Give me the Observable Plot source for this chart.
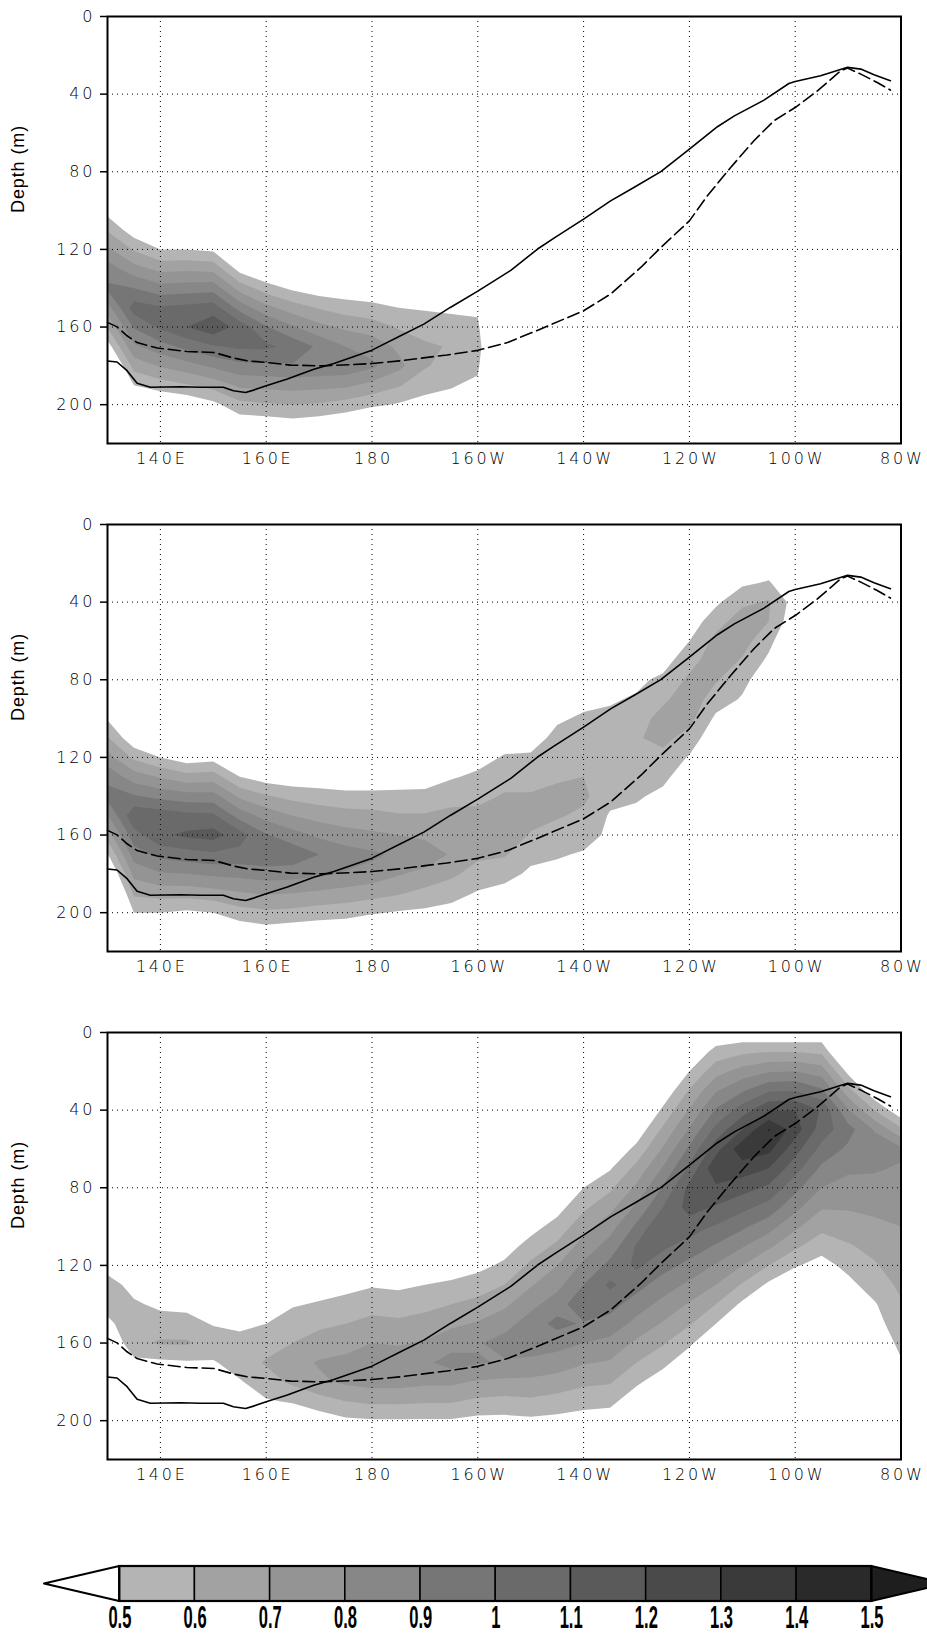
<!DOCTYPE html>
<html><head><meta charset="utf-8">
<script src="https://cdn.jsdelivr.net/npm/d3@7"></script>
<script src="https://cdn.jsdelivr.net/npm/@observablehq/plot@0.6"></script>
<style>
html,body{margin:0;padding:0;background:#fff;overflow:hidden;}
#chart{width:927px;}
#chart svg{display:block;}
</style></head><body><div id="chart"></div>
<script>
// ---- axes / ticks ----
const xDomain = [130, 280];
const yDomain = [0, 220];
const lonTicks = [140, 160, 180, 200, 220, 240, 260, 280];
const lonTickLabels = ["140E", "160E", "180", "160W", "140W", "120W", "100W", "80W"];
const lonGridLines = [140, 160, 180, 200, 220, 240, 260];
const depthTicks = [0, 40, 80, 120, 160, 200];
const depthGridLines = [40, 80, 120, 160, 200];

// ---- colour levels ----
const levels = [0.5, 0.6, 0.7, 0.8, 0.9, 1.0, 1.1, 1.2, 1.3, 1.4, 1.5];
const cbLabels = ["0.5", "0.6", "0.7", "0.8", "0.9", "1", "1.1", "1.2", "1.3", "1.4", "1.5"];
const grays = ["#ffffff", "#b4b4b4", "#a2a2a2", "#949494", "#878787", "#767676", "#6a6a6a", "#5a5a5a", "#4a4a4a", "#3a3a3a", "#2a2a2a", "#1e1e1e"];

// ---- sample grid (lon in degrees east, depth in m) ----
const gridLon = [130,135,140,145,150,155,160,165,170,175,180,185,190,195,200,205,210,215,220,225,230,235,240,245,250,255,260,265,270,275,280];
const gridDepth = [0,10,20,30,40,50,60,70,80,90,100,110,120,130,140,150,160,170,180,190,200,210,220];

// ---- thermocline lines ----
const solidLon = [130,131.8,133.7,135.6,138.1,143.8,147.6,151.9,153.8,156.1,157.6,160,164,169,172.8,180,185.4,189.8,194.8,200,206.3,211.3,214.4,220,225.1,229.5,234.6,240,245.3,248.5,254.1,258.8,260,264.8,269.9,272.4,274.9,278];
const solidDepth = [177.5,178,182.5,189,191,190.8,191,191,192.8,193.7,192.5,190.3,186.8,181.7,178.8,171.9,164.5,158.5,149.9,141.5,130.7,119.8,114.2,104.4,95,88.1,79.9,68.3,56.8,51.2,43.1,34.5,33.5,30.5,26.2,27.1,30,33.1];
const dashLon = [130,131.8,133.7,135.6,139.4,145,150.1,153.9,156.4,160.2,164.6,170.3,175.9,180,185.4,191.7,194.2,200,205.6,211.9,220,225.1,230.8,234.6,240,243.4,247.8,252.2,256,260,264.2,268.6,269.9,272.4,275.5,278];
const dashDepth = [157.6,159.9,164.5,168,170.8,172.6,173.1,176,177.4,178.3,179.6,180,179.4,178.8,177.4,175.2,174.4,172,168,161,151.6,143,129.3,119,105.3,92.4,77.8,64,53.7,46.9,38.3,28,26.6,29.7,34,37.9];

// ---- field values: one column per longitude (gridLon), top to bottom (gridDepth) ----
const Z = [0,0,0,0,0,0,0,0,0,0,0,0,0,0,0,0,0,0,0,0,0,0,0];
const panel1 = [
  [0,0,0,0,0,0,0,0,.2,.33,.46,.59,.72,.85,.92,.76,.61,.45,.3,.14,0,0,0],
  [0,0,0,0,0,0,0,0,0,.13,.29,.44,.59,.74,.9,1.05,.91,.78,.64,.5,.36,.23,.09],
  [0,0,0,0,0,0,0,0,0,0,.16,.33,.5,.67,.84,1.01,1.02,.86,.71,.55,.39,.23,.07],
  [0,0,0,0,0,0,0,0,0,0,.15,.32,.5,.68,.85,1.03,1.1,.93,.76,.59,.41,.24,.07],
  [0,0,0,0,0,0,0,0,0,0,.1,.29,.48,.67,.86,1.05,1.17,.99,.82,.64,.47,.29,.12],
  [0,0,0,0,0,0,0,0,0,0,0,.06,.26,.46,.66,.86,1.06,1.02,.87,.72,.57,.43,.28],
  [0,0,0,0,0,0,0,0,0,0,0,.02,.2,.38,.55,.73,.91,1.02,.88,.73,.59,.44,.3],
  [0,0,0,0,0,0,0,0,0,0,0,0,.16,.32,.48,.65,.81,.97,.89,.74,.6,.46,.31],
  [0,0,0,0,0,0,0,0,0,0,0,.01,.15,.3,.44,.59,.73,.88,.88,.73,.59,.44,.3],
  [0,0,0,0,0,0,0,0,0,0,0,.05,.18,.3,.43,.55,.68,.8,.87,.72,.56,.41,.25],
  [0,0,0,0,0,0,0,0,0,0,0,.08,.2,.31,.42,.53,.65,.76,.82,.67,.52,.36,.21],
  [0,0,0,0,0,0,0,0,0,0,0,.14,.23,.32,.41,.5,.59,.68,.73,.61,.49,.37,.25],
  [0,0,0,0,0,0,0,0,0,0,0,.23,.29,.36,.42,.49,.55,.62,.61,.54,.46,.39,.31],
  [0,0,0,0,0,0,0,0,0,0,0,.27,.33,.38,.43,.48,.54,.59,.56,.51,.45,.4,.35],
  [0,0,0,0,0,0,0,0,0,0,0,.26,.31,.37,.42,.47,.53,.58,.53,.47,.42,.37,.31],
  Z, Z, Z, Z, Z, Z, Z, Z, Z, Z, Z, Z, Z, Z, Z, Z
];
const panel2 = [
  [0,0,0,0,0,0,0,.11,.23,.36,.49,.61,.74,.87,.94,.79,.65,.49,.35,.21,.06,0,0],
  [0,0,0,0,0,0,0,0,0,.09,.25,.42,.58,.75,.91,1.08,.96,.85,.73,.62,.5,.38,.27],
  [0,0,0,0,0,0,0,0,0,0,.13,.31,.5,.69,.87,1.06,1.08,.93,.79,.64,.5,.36,.21],
  [0,0,0,0,0,0,0,0,0,0,.05,.24,.44,.64,.84,1.03,1.12,.96,.8,.64,.48,.33,.17],
  [0,0,0,0,0,0,0,0,0,0,.09,.28,.46,.65,.84,1.02,1.14,.98,.82,.66,.5,.34,.18],
  [0,0,0,0,0,0,0,0,0,0,0,.14,.32,.5,.68,.86,1.04,.97,.83,.69,.56,.42,.28],
  [0,0,0,0,0,0,0,0,0,0,0,.15,.3,.45,.61,.76,.91,.98,.85,.71,.58,.45,.31],
  [0,0,0,0,0,0,0,0,0,0,.03,.16,.3,.43,.57,.7,.84,.97,.84,.7,.57,.43,.3],
  [0,0,0,0,0,0,0,0,0,0,.08,.2,.31,.43,.55,.66,.78,.9,.82,.68,.55,.42,.29],
  [0,0,0,0,0,0,0,0,0,.01,.11,.22,.32,.43,.53,.64,.74,.85,.79,.66,.54,.41,.28],
  [0,0,0,0,0,0,0,0,0,.04,.14,.24,.34,.43,.53,.63,.72,.82,.76,.64,.51,.39,.26],
  [0,0,0,0,0,0,0,0,.01,.1,.18,.27,.35,.44,.53,.61,.7,.78,.71,.61,.49,.39,.29],
  [0,0,0,0,0,0,0,0,.07,.15,.22,.3,.38,.45,.53,.61,.68,.76,.67,.57,.48,.39,.3],
  [0,0,0,0,0,0,0,.07,.14,.21,.28,.35,.42,.49,.56,.63,.7,.69,.62,.54,.46,.39,.31],
  [0,0,0,0,.03,.08,.14,.19,.24,.3,.35,.41,.46,.52,.57,.63,.68,.62,.56,.49,.44,.38,.32],
  [0,0,0,.03,.08,.14,.19,.24,.3,.35,.4,.45,.51,.56,.61,.66,.68,.61,.54,.46,.39,.32,.25],
  [0,.03,.07,.12,.16,.2,.25,.29,.33,.38,.42,.47,.51,.56,.61,.64,.59,.53,.48,.43,.37,.32,.26],
  [.17,.2,.23,.27,.3,.33,.36,.39,.42,.46,.49,.52,.56,.59,.62,.61,.56,.51,.47,.42,.38,.33,.28],
  [.23,.26,.29,.31,.34,.37,.4,.43,.45,.48,.51,.54,.57,.6,.62,.58,.54,.49,.46,.41,.37,.33,.29],
  [.29,.31,.33,.36,.38,.4,.43,.45,.47,.49,.52,.55,.58,.56,.53,.49,.48,.45,.43,.4,.38,.35,.33],
  [.22,.25,.29,.32,.35,.38,.41,.45,.48,.51,.55,.59,.57,.53,.51,.48,.46,.43,.41,.38,.35,.33,.3],
  [.14,.19,.23,.28,.33,.37,.42,.46,.52,.58,.64,.63,.57,.52,.48,.44,.4,.36,.32,.28,.24,.2,.16],
  [.2,.24,.29,.34,.39,.44,.5,.56,.62,.66,.63,.56,.49,.45,.4,.35,.3,.25,.2,.15,.1,.05,0],
  [.27,.32,.37,.42,.48,.56,.63,.66,.61,.55,.48,.42,.36,.3,.24,.19,.13,.07,.01,0,0,0,0],
  [.26,.33,.4,.48,.58,.65,.64,.59,.53,.49,.45,.41,.37,.32,.28,.24,.2,.15,.11,.07,.03,0,0],
  [.3,.37,.43,.51,.61,.6,.53,.48,.43,.38,.33,.28,.23,.18,.13,.08,.03,0,0,0,0,0,0],
  [.25,.3,.35,.4,.45,.42,.38,.34,.3,.26,.22,.18,.14,.1,.06,.02,0,0,0,0,0,0,0],
  Z, Z, Z, Z
];
const panel3 = [
  [0,0,0,0,0,0,0,0,.03,.13,.23,.33,.44,.56,.55,.47,.38,.28,.18,.08,0,0,0],
  [0,0,0,0,0,0,0,0,.02,.1,.18,.25,.35,.45,.52,.58,.58,.47,.37,.28,.19,.1,.01],
  [0,0,0,0,0,0,0,0,0,.04,.12,.21,.29,.38,.47,.56,.61,.48,.36,.24,.12,0,0],
  [0,0,0,0,0,0,0,0,0,.03,.11,.2,.29,.37,.46,.55,.61,.49,.37,.25,.13,.01,0],
  [0,0,0,0,0,0,0,0,0,.06,.13,.2,.28,.35,.42,.49,.57,.49,.4,.3,.2,.1,0],
  [0,0,0,0,.01,.05,.1,.14,.18,.23,.27,.31,.35,.4,.44,.48,.53,.55,.49,.44,.39,.34,.29],
  [0,0,0,0,0,0,.01,.06,.12,.17,.23,.28,.34,.39,.45,.5,.56,.61,.56,.49,.41,.34,.26],
  [0,0,0,0,0,0,.04,.09,.15,.21,.26,.32,.38,.43,.49,.55,.6,.66,.62,.51,.41,.3,.19],
  [0,0,0,0,0,0,0,.06,.12,.19,.25,.32,.38,.45,.51,.58,.64,.71,.68,.56,.44,.32,.2],
  [0,0,0,0,0,0,.01,.07,.14,.2,.27,.34,.4,.47,.53,.6,.66,.73,.72,.6,.48,.35,.23],
  [0,0,0,0,0,0,0,.07,.14,.21,.28,.35,.42,.49,.56,.63,.7,.77,.74,.62,.49,.38,.26],
  [0,0,0,0,0,0,0,.05,.12,.19,.26,.34,.41,.48,.55,.62,.69,.76,.74,.62,.49,.38,.26],
  [0,0,0,0,0,0,.01,.08,.15,.22,.29,.36,.43,.5,.57,.64,.71,.78,.72,.61,.49,.39,.28],
  [0,0,0,0,0,0,0,.03,.11,.19,.27,.35,.44,.52,.6,.68,.76,.84,.72,.61,.49,.37,.25],
  [0,0,0,0,0,0,0,.07,.15,.23,.31,.39,.47,.55,.63,.71,.79,.81,.69,.58,.47,.35,.24],
  [0,0,0,0,0,0,.05,.13,.21,.29,.37,.45,.52,.6,.68,.76,.84,.79,.68,.57,.47,.36,.26],
  [0,0,0,0,0,.08,.15,.23,.31,.39,.46,.54,.62,.69,.77,.85,.87,.77,.68,.58,.48,.38,.29],
  [0,0,0,0,.07,.15,.23,.31,.38,.46,.54,.62,.7,.77,.85,.93,.84,.75,.66,.56,.47,.38,.29],
  [0,0,.02,.1,.18,.26,.34,.42,.5,.58,.66,.74,.82,.9,.98,.89,.8,.71,.62,.54,.45,.36,.27],
  [0,0,.05,.14,.23,.32,.4,.49,.58,.67,.76,.84,.93,1.02,.94,.86,.77,.69,.61,.53,.44,.36,.28],
  [0,.05,.14,.24,.34,.43,.53,.63,.72,.82,.92,1.01,1.02,.94,.85,.77,.68,.6,.52,.43,.35,.27,.18],
  [.13,.23,.33,.42,.52,.62,.71,.81,.91,1,1.1,1.02,.94,.85,.77,.69,.61,.53,.44,.36,.28,.2,.11],
  [.29,.4,.5,.61,.71,.81,.92,1.02,1.13,1.14,1.05,.96,.87,.78,.69,.61,.52,.43,.34,.25,.16,.08,0],
  [.41,.54,.66,.79,.91,1.03,1.16,1.28,1.18,1.09,.99,.89,.79,.7,.6,.5,.4,.31,.21,.11,.01,0,0],
  [.42,.58,.74,.89,1.05,1.2,1.37,1.25,1.14,1.03,.92,.81,.7,.59,.48,.37,.26,.15,.04,0,0,0,0],
  [.4,.6,.79,.99,1.19,1.41,1.33,1.2,1.08,.96,.84,.72,.6,.48,.36,.23,.11,0,0,0,0,0,0],
  [.4,.6,.8,1,1.2,1.25,1.14,1.04,.93,.83,.72,.62,.51,.41,.3,.2,.09,0,0,0,0,0,0],
  [.42,.58,.75,.92,1.09,1.05,.97,.88,.8,.71,.63,.54,.46,.37,.29,.2,.12,.03,0,0,0,0,0],
  [.12,.29,.47,.64,.81,.94,.88,.82,.76,.71,.65,.59,.53,.47,.41,.35,.3,.24,.18,.12,.06,0,0],
  [0,.03,.22,.41,.6,.79,.86,.81,.77,.72,.68,.63,.59,.55,.49,.46,.41,.37,.32,.28,.23,.19,.14],
  [0,0,.02,.22,.42,.62,.82,.79,.76,.73,.7,.68,.65,.62,.59,.56,.53,.49,.47,.44,.41,.38,.36]
];

// ---- build ----
const W = 927;
const colorScale = {type: "threshold", domain: levels, range: grays};
const dLon = gridLon[1] - gridLon[0];
const dDep = gridDepth[1] - gridDepth[0];
const LS = 2.8; // tick label letter spacing

function flatGrid(cols) {
  const w = cols.length, h = cols[0].length, out = new Array(w * h);
  for (let j = 0; j < h; j++) for (let i = 0; i < w; i++) out[j * w + i] = cols[i][j];
  return out;
}

function panel(cols) {
  const values = flatGrid(cols);
  const svg = Plot.plot({
    width: W, height: 508,
    marginTop: 16, marginBottom: 65, marginLeft: 107, marginRight: 26.5,
    style: {fontFamily: "'DejaVu Sans', sans-serif", fontSize: "16px", fontWeight: 200, letterSpacing: LS + "px", background: "white", color: "black"},
    x: {domain: xDomain},
    y: {domain: yDomain, reverse: true},
    color: colorScale,
    marks: [
      Plot.contour(values, {
        width: gridLon.length, height: gridDepth.length,
        x1: gridLon[0] - dLon / 2, x2: gridLon[gridLon.length - 1] + dLon / 2,
        y1: gridDepth[0] - dDep / 2, y2: gridDepth[gridDepth.length - 1] + dDep / 2,
        fill: Plot.identity, thresholds: levels, stroke: "none", clip: true
      }),
      Plot.gridX(lonGridLines, {stroke: "black", strokeOpacity: 1, strokeWidth: 1, strokeDasharray: "1,4"}),
      Plot.gridY(depthGridLines, {stroke: "black", strokeOpacity: 1, strokeWidth: 1, strokeDasharray: "1,4"}),
      Plot.line(solidLon, {x: solidLon, y: solidDepth, stroke: "black", strokeWidth: 1.6}),
      Plot.line(dashLon, {x: dashLon, y: dashDepth, stroke: "black", strokeWidth: 1.6, strokeDasharray: "12,5"}),
      Plot.frame({stroke: "black", strokeWidth: 2}),
      Plot.axisY(depthTicks, {tickSize: 7, tickPadding: 8 - LS, label: null, stroke: "black", strokeWidth: 1.5}),
      Plot.axisX(lonTicks, {tickSize: 0, tickPadding: 9, dx: LS / 2, label: null, tickFormat: d => lonTickLabels[lonTicks.indexOf(d)]}),
      Plot.text(["Depth (m)"], {frameAnchor: "left", dx: -89, dy: -17, rotate: -90, fontSize: 18, fontWeight: 400, fontFamily: "'Liberation Sans', Arial, sans-serif"})
    ]
  });
  d3.select(svg).selectAll("text").filter(function () { return this.textContent === "Depth (m)"; })
    .style("letter-spacing", "0.9px");
  return svg;
}

const root = document.getElementById("chart");
[panel1, panel2, panel3].forEach(p => root.appendChild(panel(p)));

// ---- colour bar ----
const step = levels[1] - levels[0];
const lo = levels[0] - step, hi = levels[levels.length - 1] + step;
const bins = levels.slice(0, -1).map((v, i) => ({lo: v, hi: levels[i + 1]}));
const cb = Plot.plot({
  width: W, height: 113, margin: 0,
  style: {background: "white", overflow: "hidden"},
  x: {domain: [lo, hi], range: [44, 946.5]},
  y: {domain: [0, 1], range: [42, 77]},
  color: colorScale,
  marks: [
    Plot.rect(bins, {x1: "lo", x2: "hi", y1: 0, y2: 1, fill: "lo", stroke: "black", strokeWidth: 1.5}),
    Plot.areaY([{x: lo, a: 0.5, b: 0.5}, {x: levels[0], a: 0, b: 1}], {x: "x", y1: "a", y2: "b", fill: grays[0], stroke: "black", strokeWidth: 2}),
    Plot.areaY([{x: levels[levels.length - 1], a: 0, b: 1}, {x: hi, a: 0.5, b: 0.5}], {x: "x", y1: "a", y2: "b", fill: grays[grays.length - 1], stroke: "black", strokeWidth: 2}),
    Plot.rect([0], {x1: levels[0], x2: levels[levels.length - 1], y1: 0, y2: 1, fill: "none", stroke: "black", strokeWidth: 2.2}),
    Plot.text(levels, {x: d => d, y: 1, dy: 19, text: (d, i) => cbLabels[i], fontSize: 27, fontWeight: "bold", fontFamily: "'Liberation Sans', Arial, sans-serif", lineAnchor: "middle"})
  ]
});
root.appendChild(cb);
// condense the colour-bar labels horizontally (and stretch slightly vertically) around their own centres
const cbTexts = Array.from(cb.querySelectorAll('g[aria-label="text"] text'));
if (cbTexts.length) {
  const svgBox = cb.getBoundingClientRect();
  const k = 23 / cbTexts[0].getBoundingClientRect().width;
  cbTexts.forEach(t => {
    const r = t.getBoundingClientRect();
    const cx = r.x + r.width / 2 - svgBox.x, cy = r.y + r.height / 2 - svgBox.y;
    const g = document.createElementNS("http://www.w3.org/2000/svg", "g");
    g.setAttribute("transform", `translate(${cx.toFixed(2)},${cy.toFixed(2)}) scale(${k.toFixed(3)},1.15) translate(${(-cx).toFixed(2)},${(-cy).toFixed(2)})`);
    t.parentNode.insertBefore(g, t);
    g.appendChild(t);
  });
}
</script>
</body></html>
